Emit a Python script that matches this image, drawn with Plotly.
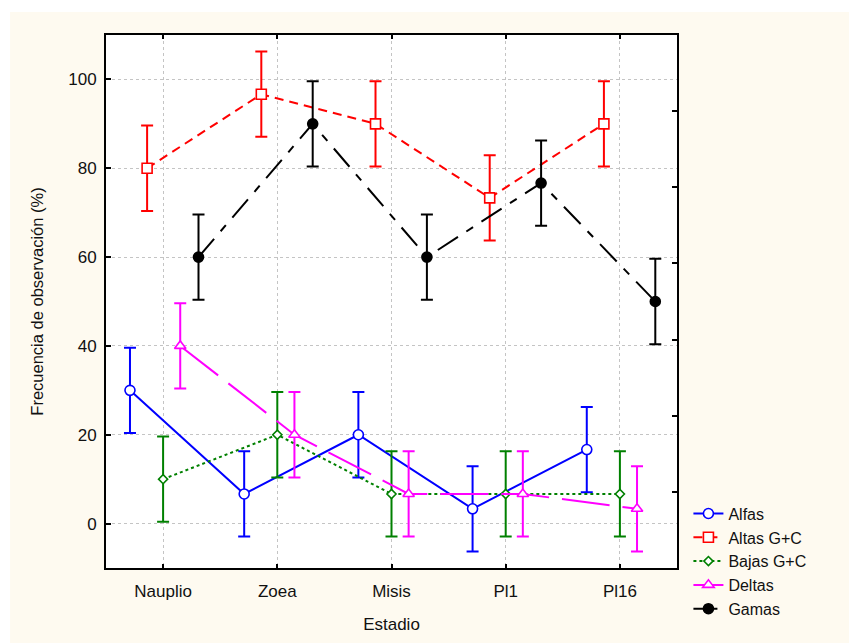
import plotly.graph_objects as go

categories = ["Nauplio", "Zoea", "Misis", "Pl1", "Pl16"]
series_names = ["Alfas", "Altas G+C", "Bajas G+C", "Deltas", "Gamas"]
alfas = [30.0, 6.67, 20.0, 3.33, 16.67]
altas = [80.0, 96.67, 90.0, 73.33, 90.0]
bajas = [10.0, 20.0, 6.67, 6.67, 6.67]
deltas = [40.0, 20.0, 6.67, 6.67, 3.33]
gamas = [60.0, 90.0, 60.0, 76.67, 50.0]
err = [9.6, 9.6, 9.6, 9.6, 9.6]
y_ticks = [0, 20, 40, 60, 80, 100]
right_ticks = [7.14, 24.29, 41.43, 58.57, 75.71, 92.86]

styles = [
    dict(values=alfas, color="#0000ff", dash="solid", symbol="circle", size=10, fill="white"),
    dict(values=altas, color="#ff0000", dash="9px,6px", symbol="square", size=10, fill="white"),
    dict(values=bajas, color="#008000", dash="3px,3px", symbol="diamond", size=7, fill="white"),
    dict(values=deltas, color="#ff00ff", dash="48px,13px", symbol="triangle-up", size=10, fill="white"),
    dict(values=gamas, color="#000000", dash="24px,10px,8px,10px", symbol="circle", size=10, fill="#000000"),
]
offsets = [-0.29, -0.14, 0.0, 0.15, 0.31]

fig = go.Figure()
for name, st, off in zip(series_names, styles, offsets):
    xs = [i + off for i in range(len(categories))]
    fig.add_trace(go.Scatter(
        x=xs, y=st["values"], name=name, mode="lines+markers",
        line=dict(color=st["color"], width=2, dash=st["dash"]),
        marker=dict(symbol=st["symbol"], size=st["size"], color=st["fill"],
                    line=dict(color=st["color"], width=1.6)),
        error_y=dict(type="data", array=err, color=st["color"], thickness=2, width=6),
    ))

# invisible trace to anchor the right-hand axis
fig.add_trace(go.Scatter(x=[None], y=[None], yaxis="y2", showlegend=False, hoverinfo="skip"))

font = dict(family="Liberation Sans, Arial, sans-serif", size=17, color="#111111")
legend_font = dict(family="Liberation Sans, Arial, sans-serif", size=16, color="#111111")

fig.update_layout(
    width=849, height=643,
    margin=dict(l=106, r=172, t=35, b=75, autoexpand=False),
    paper_bgcolor="white", plot_bgcolor="white",
    font=font,
    showlegend=True,
    legend=dict(x=1.02, xanchor="left", y=0.134, yanchor="top",
                bgcolor="rgba(0,0,0,0)", font=legend_font, tracegroupgap=0),
    shapes=[
        dict(type="rect", xref="paper", yref="paper", x0=-0.168, x1=1.35, y0=-0.2, y1=1.043,
             fillcolor="#fefaf0", line=dict(width=0), layer="below"),
        dict(type="rect", xref="paper", yref="paper", x0=0, x1=1, y0=0, y1=1,
             fillcolor="white", line=dict(width=0), layer="below"),
    ],
    xaxis=dict(
        range=[-0.5, 4.5], tickvals=list(range(len(categories))), ticktext=categories,
        ticks="inside", ticklen=4, tickwidth=2, tickcolor="black",
        ticklabelstandoff=7, automargin=False,
        showline=True, linecolor="black", linewidth=2, mirror="ticks",
        showgrid=True, gridcolor="#c4c4c4", gridwidth=1, griddash="3px,3px",
        zeroline=False,
        title=dict(text="Estadio", standoff=18, font=font),
    ),
    yaxis=dict(
        range=[-10, 110], tickvals=y_ticks,
        ticks="inside", ticklen=5, tickwidth=2, tickcolor="black",
        ticklabelstandoff=4, automargin=False,
        showline=True, linecolor="black", linewidth=2, mirror=True,
        showgrid=True, gridcolor="#c4c4c4", gridwidth=1, griddash="3px,3px",
        zeroline=False,
        title=dict(text="Frecuencia de observación (%)", standoff=20,
                   font=dict(family=font["family"], size=16.5, color="#111111")),
    ),
    yaxis2=dict(
        range=[-10, 110], overlaying="y", side="right", tickvals=right_ticks,
        showticklabels=False, ticks="inside", ticklen=5, tickwidth=2, tickcolor="black",
        showgrid=False, zeroline=False, showline=False, automargin=False,
    ),
)

fig.write_html("out.html")
